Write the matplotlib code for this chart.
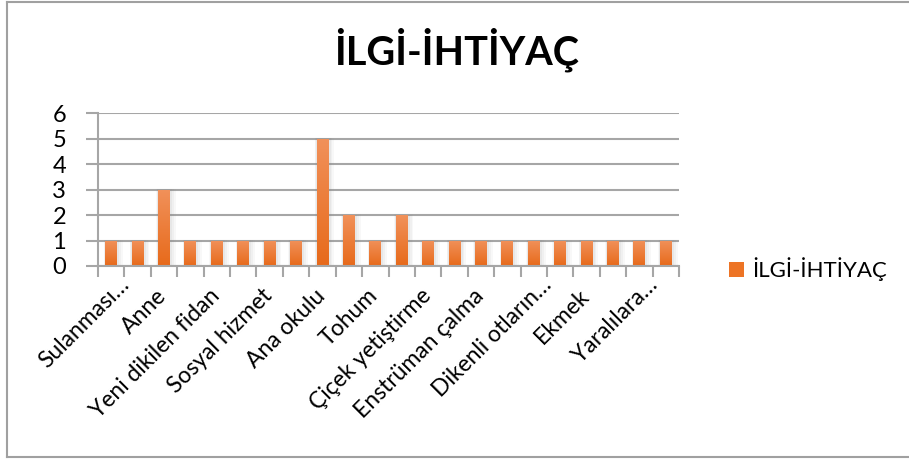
import numpy as np
import matplotlib
matplotlib.use("Agg")
import matplotlib.pyplot as plt
import matplotlib.transforms as mtransforms
from matplotlib.patches import Rectangle
from matplotlib.lines import Line2D
from matplotlib.colors import LinearSegmentedColormap

# ---- data ----
values = [1, 1, 3, 1, 1, 1, 1, 1, 5, 2, 1, 2, 1, 1, 1, 1, 1, 1, 1, 1, 1, 1]
tick_labels = ["Sulanması…", "Anne", "Yeni dikilen fidan", "Sosyal hizmet",
               "Ana okulu", "Tohum", "Çiçek yetiştirme", "Enstrüman çalma",
               "Dikenli otların…", "Ekmek", "Yaralılara…"]
series_name = "İLGİ-İHTİYAÇ"
chart_title = "İLGİ-İHTİYAÇ"
y_ticks = [0, 1, 2, 3, 4, 5, 6]

FONT = ["Lato", "DejaVu Sans"]
plt.rcParams['font.family'] = FONT

fig = plt.figure(figsize=(9.09, 4.59), dpi=100)
ax = fig.add_axes([98 / 909, 1 - 266 / 459, (679 - 98) / 909, (266 - 113) / 459])

n = len(values)
x = np.arange(n)
bar_color = "#ED7425"
bar_w = 0.45
bars = ax.bar(x, values, width=bar_w, color=bar_color, zorder=3)

# soft shadow around each bar
for b in bars:
    x0, w, h = b.get_x(), b.get_width(), b.get_height()
    for k, a in [(0.22, 0.05), (0.15, 0.06), (0.08, 0.08)]:
        ax.add_patch(Rectangle((x0 - k * 0.3, 0), w + k * 1.3, h + k * 0.12,
                               facecolor="#808080", alpha=a, lw=0, zorder=2.5))

# vertical gradient inside each bar
cmap = LinearSegmentedColormap.from_list("og", ["#E76A1B", "#F1915A"])
grad = np.linspace(0, 1, 100).reshape(-1, 1)
for b in bars:
    x0, w, h = b.get_x(), b.get_width(), b.get_height()
    im = ax.imshow(grad, extent=(x0, x0 + w, 0, h), origin="lower",
                   cmap=cmap, aspect="auto", zorder=3.5)
    im.set_clip_path(b)

ax.set_xlim(-0.5, n - 0.5)
ax.set_ylim(0, 6)
ax.set_yticks(y_ticks)
ax.set_yticklabels([str(t) for t in y_ticks], fontsize=17)
ax.yaxis.grid(True, color="#a6a6a6", lw=1.5, zorder=0)
ax.set_axisbelow(True)
for s in ["top", "right"]:
    ax.spines[s].set_visible(False)
for s in ["left", "bottom"]:
    ax.spines[s].set_color("#a6a6a6")
    ax.spines[s].set_linewidth(1.5)
    ax.spines[s].set_zorder(4)
ax.tick_params(axis="y", length=9, width=1.5, color="#a6a6a6", pad=14)

# category boundary ticks; labels at every second category drawn as texts
ax.set_xticks(np.arange(-0.5, n, 1.0))
ax.set_xticklabels([])
ax.tick_params(axis="x", length=8, width=1.5, color="#a6a6a6")

base = ax.get_xaxis_transform()
for pos, lab in zip(x[::2], tick_labels):
    if lab.endswith("…"):
        dx, dy = 19, 20
    else:
        dx, dy = 4, 31
    tr = base + mtransforms.ScaledTranslation(dx / 100, -dy / 100, fig.dpi_scale_trans)
    ax.text(pos, 0, lab, transform=tr, rotation=45, rotation_mode="anchor",
            ha="right", va="baseline", fontsize=16.5)

fig.text(457 / 909, 1 - 50 / 459, chart_title, ha="center", va="center",
         fontsize=28.5, fontweight="bold")

# legend (drawn manually at the reference position)
fig.add_artist(Rectangle((729 / 909, 1 - 277 / 459), 15 / 909, 15 / 459,
                         facecolor=bar_color, transform=fig.transFigure))
fig.text(752 / 909, 1 - 269 / 459, series_name, ha="left", va="center",
         fontsize=16)

# outer chart border
c = "#a0a0a0"
fig.add_artist(Line2D([6.5 / 909, 6.5 / 909], [1 - 1.5 / 459, 1 - 457 / 459], color=c, lw=1.5))
fig.add_artist(Line2D([6.5 / 909, 1], [1 - 1.5 / 459, 1 - 1.5 / 459], color=c, lw=1.5))
fig.add_artist(Line2D([6.5 / 909, 1], [1 - 457 / 459, 1 - 457 / 459], color=c, lw=1.5))

fig.savefig("out.png", dpi=100)
